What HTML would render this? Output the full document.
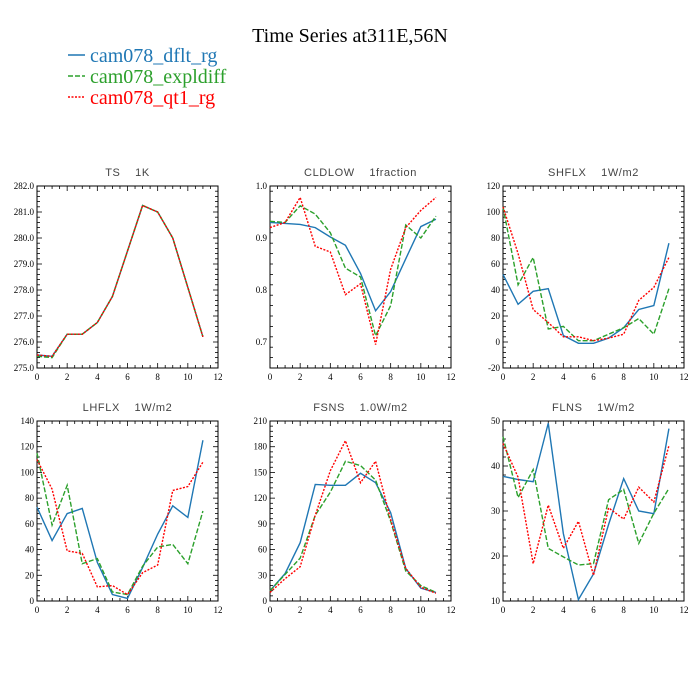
<!DOCTYPE html>
<html><head><meta charset="utf-8">
<style>
body{margin:0;background:#fff;}
svg{display:block;}
.pt{white-space:pre;}
</style></head>
<body>
<svg id="chart" width="700" height="700" xmlns="http://www.w3.org/2000/svg">
<text x="350" y="42" text-anchor="middle" font-family="Liberation Serif, serif" font-size="20">Time Series at311E,56N</text>
<g>
<g><line x1="68" y1="55" x2="85" y2="55" stroke="#1f77b4" stroke-width="1.5"/><text x="90" y="62" font-family="Liberation Serif, serif" font-size="20" fill="#1f77b4">cam078_dflt_rg</text></g>
<g><line x1="68" y1="76" x2="85" y2="76" stroke="#2ca02c" stroke-width="1.5" stroke-dasharray="5,2"/><text x="90" y="83" font-family="Liberation Serif, serif" font-size="20" fill="#2ca02c">cam078_expldiff</text></g>
<g><line x1="68" y1="97" x2="85" y2="97" stroke="#ff0000" stroke-width="1.5" stroke-dasharray="2,1.5"/><text x="90" y="104" font-family="Liberation Serif, serif" font-size="20" fill="#ff0000">cam078_qt1_rg</text></g>
</g>
</svg>
<script>
const months=[0,1,2,3,4,5,6,7,8,9,10,11];
const panelTitles=["TS    1K","CLDLOW    1fraction","SHFLX    1W/m2","LHFLX    1W/m2","FSNS    1.0W/m2","FLNS    1W/m2"];
const panelNames=["ts","cldlow","shflx","lhflx","fsns","flns"];
const yMin=[275,0.65,-20,0,0,10];
const yMax=[282,1.0,120,140,210,50];
const yTickLabels=[
 ["275.0","276.0","277.0","278.0","279.0","280.0","281.0","282.0"],
 ["0.7","0.8","0.9","1.0"],
 ["-20","0","20","40","60","80","100","120"],
 ["0","20","40","60","80","100","120","140"],
 ["0","30","60","90","120","150","180","210"],
 ["10","20","30","40","50"]];
const xTickLabels=["0","2","4","6","8","10","12"];
const dflt=[
 [275.5,275.45,276.3,276.3,276.75,277.75,279.5,281.25,281.0,280.0,278.1,276.2],
 [0.930,0.928,0.926,0.920,0.902,0.886,0.832,0.760,0.797,0.860,0.922,0.936],
 [52,29,39,41,5,-1,-1,3,11,25,28,76],
 [73,47,68,72,30,5,2,26,52,74,65,125],
 [12,32,68,136,135,135,149,138,103,38,15,10],
 [37.7,37,36.5,49.5,25,10.3,16,27,37.2,30,29.4,48.3]];
const expldiff=[
 [275.45,275.4,276.3,276.3,276.75,277.75,279.5,281.25,281.0,280.0,278.1,276.2],
 [0.932,0.930,0.962,0.946,0.910,0.842,0.825,0.712,0.770,0.925,0.900,0.942],
 [104,44,65,10,12,1,1,6,11,18,6,41],
 [115,59,90,29,33,7,5,27,42,44,29,70],
 [12,31,50,100,127,163,158,141,93,35,18,10],
 [46.5,33,39.2,21.7,19.8,18,18.3,32.5,34.8,22.8,29.5,35]];
const qt1=[
 [275.5,275.45,276.3,276.3,276.75,277.75,279.5,281.25,281.0,280.0,278.1,276.2],
 [0.920,0.930,0.978,0.884,0.873,0.791,0.812,0.695,0.840,0.920,0.953,0.978],
 [104,68,25,15,4,4,1,3,6,32,42,65],
 [110,87,39,37,11,12,5,22,28,86,89,108],
 [10,26,40,100,152,187,138,163,95,38,16,9],
 [45,37.5,18.3,31.3,21.7,27.7,15.7,30.7,28.2,35.3,32,44.5]];

const NS="http://www.w3.org/2000/svg";
const svg=document.getElementById('chart');
function mk(tag,attrs,parent){const e=document.createElementNS(NS,tag);for(const k in attrs)e.setAttribute(k,attrs[k]);parent.appendChild(e);return e;}
const boxesX=[[37,218],[270,451],[503,684]];
const boxesY=[[186,368],[421,601]];
for(let p=0;p<6;p++){
 const [x0,x1]=boxesX[p%3];const [yT,yB]=boxesY[Math.floor(p/3)];
 const g=mk('g',{},svg);
 
 
 const sx=v=>x0+(v-0)/12*(x1-x0);
 const sy=v=>yB-(v-yMin[p])/(yMax[p]-yMin[p])*(yB-yT);
 const t=mk('text',{x:(x0+x1)/2,y:yT-10,'text-anchor':'middle','font-family':'Liberation Sans, sans-serif','font-size':'11','letter-spacing':'0.6',fill:'#444','class':'pt'},g);
 t.textContent=panelTitles[p];
 
 
 const r=mk('rect',{x:x0,y:yT,width:x1-x0,height:yB-yT,fill:'none',stroke:'#000','stroke-width':'1'},g);
 
 
 for(let i=0;i<=24;i++){const v=i*0.5;const X=sx(v);const L=(i%4==0)?5:3;
  mk('line',{x1:X,y1:yB,x2:X,y2:yB-L,stroke:'#000','stroke-width':'0.8'},g);
  mk('line',{x1:X,y1:yT,x2:X,y2:yT+L,stroke:'#000','stroke-width':'0.8'},g);}
 xTickLabels.forEach((lab,i)=>{const tx=mk('text',{x:sx(i*2),y:yB+12,'text-anchor':'middle','font-family':'Liberation Serif, serif','font-size':'9'},g);tx.textContent=lab;
  
  });
 const labs=yTickLabels[p];
 const first=parseFloat(labs[0]),step=parseFloat(labs[1])-first;
 const nMin=Math.round((yMax[p]-yMin[p])/(step/5));
 for(let i=0;i<=nMin;i++){const v=yMin[p]+i*step/5;const Y=sy(v);
  const major=Math.abs(((v-first)/step)-Math.round((v-first)/step))<1e-6;const L=major?5:3;
  mk('line',{x1:x0,y1:Y,x2:x0+L,y2:Y,stroke:'#000','stroke-width':'0.8'},g);
  mk('line',{x1:x1,y1:Y,x2:x1-L,y2:Y,stroke:'#000','stroke-width':'0.8'},g);}
 labs.forEach(lab=>{const ty=mk('text',{x:x0-3,y:sy(parseFloat(lab))+3,'text-anchor':'end','font-family':'Liberation Serif, serif','font-size':'9'},g);ty.textContent=lab;
  
  });
 const series=[[dflt,'#1f77b4','none','dflt'],[expldiff,'#2ca02c','5,2','expldiff'],[qt1,'#ff0000','2,1.5','qt1']];
 series.forEach(([d,c,da,nm])=>{
  const pts=months.map((m,i)=>sx(m)+','+sy(d[p][i])).join(' ');
  const pl=mk('polyline',{points:pts,fill:'none',stroke:c,'stroke-width':'1.4','stroke-dasharray':da},g);
  
  
 });
}
</script>
</body></html>
